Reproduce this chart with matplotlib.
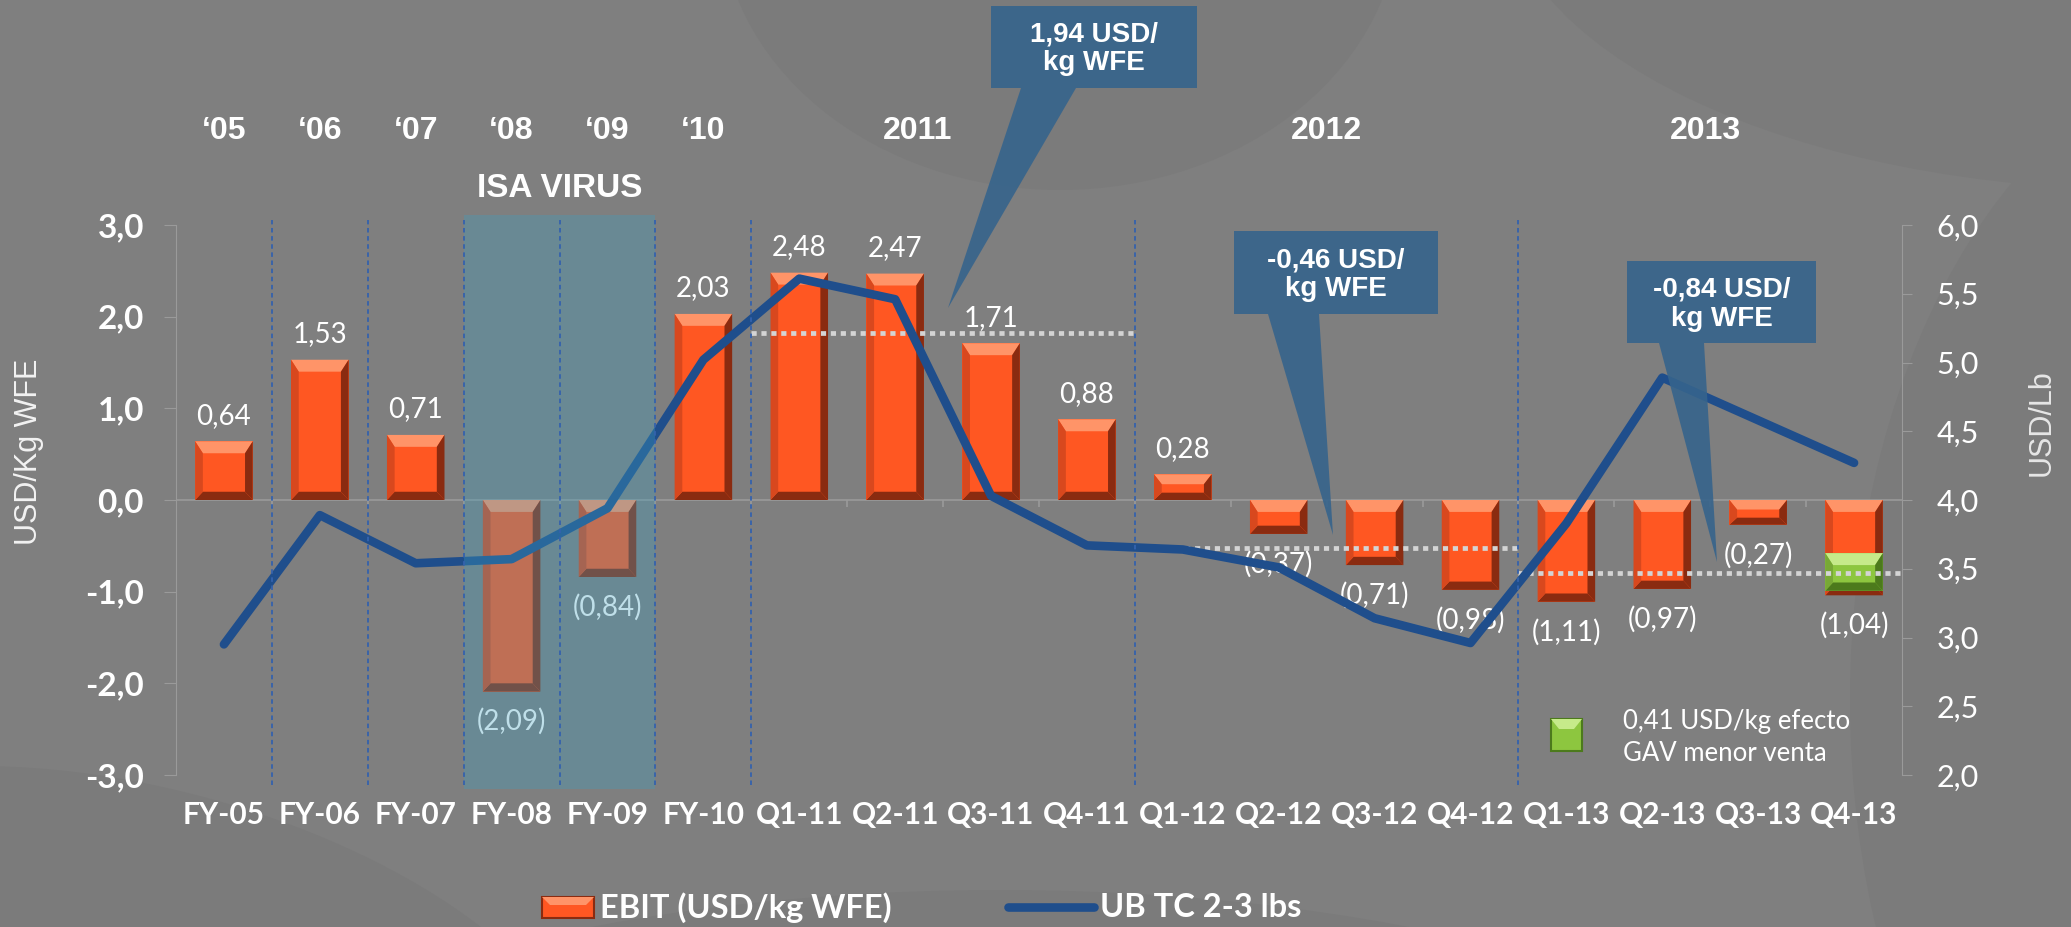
import matplotlib
matplotlib.use("Agg")
import numpy as np
import matplotlib.pyplot as plt
from matplotlib.patches import Rectangle, Polygon, Ellipse
from matplotlib.transforms import Affine2D
from matplotlib.lines import Line2D

# ---- data ----
periods = ["FY-05", "FY-06", "FY-07", "FY-08", "FY-09", "FY-10",
           "Q1-11", "Q2-11", "Q3-11", "Q4-11",
           "Q1-12", "Q2-12", "Q3-12", "Q4-12",
           "Q1-13", "Q2-13", "Q3-13", "Q4-13"]
ebit = [0.64, 1.53, 0.71, -2.09, -0.84, 2.03,
        2.48, 2.47, 1.71, 0.88,
        0.28, -0.37, -0.71, -0.98,
        -1.11, -0.97, -0.27, -1.04]
ub_tc = [2.95, 3.89, 3.54, 3.57, 3.94, 5.02,
         5.61, 5.46, 4.03, 3.67,
         3.64, 3.51, 3.14, 2.96,
         3.83, 4.89, 4.58, 4.27]
year_labels = ["\u201805", "\u201806", "\u201807", "\u201808", "\u201809", "\u201810",
               "2011", "2012", "2013"]
year_pos = [0, 1, 2, 3, 4, 5, 7.23, 11.5, 15.45]
year_breaks = [0.5, 1.5, 2.5, 3.5, 4.5, 5.5, 9.5, 13.5]
avg_levels = [1.82, -0.52, -0.80]
avg_spans = [(5.5, 9.5), (9.5, 13.5), (13.5, 17.5)]
gav_effect = 0.41
gav_base = -0.99
callout_texts = ["1,94 USD/\nkg WFE", "-0,46 USD/\nkg WFE", "-0,84 USD/\nkg WFE"]

# callout geometry in figure pixels (box, wedge base, tip)
callout_boxes = [(991, 6, 1197, 88), (1234, 231, 1438, 314), (1627, 261, 1816, 343)]
callout_bases = [(1021, 1076), (1268, 1319), (1659, 1704)]
callout_tips = [(948, 308), (1333, 535), (1717, 562)]

W, H = 2071, 927
BG = "#7f7f7f"
ORANGE = ("#ff5722", "#ff9468", "#8a2b10", "#d8481e")
GREEN = ("#8dc63f", "#c6ea8a", "#4c7a1c", "#78a836")
NAVY = "#1f4e8c"
CALLOUT = "#36648c"
ARIAL = ["Liberation Sans", "DejaVu Sans"]
CALIBRI = ["Lato", "DejaVu Sans"]

plt.rcParams["font.family"] = CALIBRI


def fmt(v, dec=2):
    s = f"{abs(v):.{dec}f}".replace(".", ",")
    return s if v >= 0 else f"({s})"


def bevel(ax, rect, colors, bx=0.08, top=0.13, bot=0.09, z=2):
    face, light, dark, side = colors
    x0, y0 = rect.get_x(), rect.get_y()
    x1, y1 = x0 + rect.get_width(), y0 + rect.get_height()
    lo, hi = min(y0, y1), max(y0, y1)
    top = min(top, (hi - lo) / 2.6)
    bot = min(bot, (hi - lo) / 3.5)
    shapes = [
        ([(x0, hi), (x1, hi), (x1 - bx, hi - top), (x0 + bx, hi - top)], light),
        ([(x0, lo), (x1, lo), (x1 - bx, lo + bot), (x0 + bx, lo + bot)], dark),
        ([(x0, lo), (x0 + bx, lo + bot), (x0 + bx, hi - top), (x0, hi)], side),
        ([(x1, lo), (x1 - bx, lo + bot), (x1 - bx, hi - top), (x1, hi)], dark),
    ]
    for pts, c in shapes:
        ax.add_patch(Polygon(pts, closed=True, fc=c, ec="none", zorder=z + 0.1))


fig = plt.figure(figsize=(W / 100, H / 100), dpi=100, facecolor=BG)
px = Affine2D().scale(1 / W, -1 / H).translate(0, 1) + fig.transFigure

# faint background swirls
for cx, cy, w, h, ang in [(1060, -90, 680, 560, 0), (2150, -120, 1300, 620, 0),
                          (2260, 700, 820, 1300, 0), (1000, 1190, 1700, 600, 0),
                          (150, 1000, 900, 420, 15)]:
    fig.add_artist(Ellipse((cx, cy), w, h, angle=ang, transform=px,
                           fc="#7b7b7b", ec="none", zorder=-5))

ax = fig.add_axes([176 / W, 1 - 775 / H, (1902 - 176) / W, 550 / H])
ax.set_facecolor("none")
x = np.arange(len(periods))

bars = ax.bar(x, ebit, width=0.6, color=ORANGE[0], zorder=2)
for b in bars:
    bevel(ax, b, ORANGE)

green = ax.bar(x[-1], gav_effect, bottom=gav_base, width=0.6, color=GREEN[0], zorder=2.5)
bevel(ax, green[0], GREEN, z=2.5)

for lvl, (a, b) in zip(avg_levels, avg_spans):
    ax.hlines(lvl, a, b, colors="#d4d4d4", lw=3.4, linestyles=(0, (1.1, 1.0)), zorder=3)

for xi, v in zip(x, ebit):
    ax.annotate(fmt(v), (xi, v), xytext=(0, 9 if v >= 0 else -12),
                textcoords="offset points", ha="center",
                va="bottom" if v >= 0 else "top", fontsize=20,
                color="white", zorder=4)

# zero axis with small category ticks
ax.axhline(0, color="#9a9a9a", lw=1.2, zorder=1)
ax.vlines(np.arange(0.5, len(periods) - 1, 1), -0.08, 0, color="#9a9a9a", lw=1.2, zorder=1)

for lbl, xp in zip(year_labels, year_pos):
    ax.text(xp, 4.03, lbl, ha="center", va="center", fontsize=23,
            fontweight="bold", color="white", family=ARIAL)
ax.text(3.5, 3.40, "ISA VIRUS", ha="center", va="center", fontsize=24,
        fontweight="bold", color="white", family=ARIAL)

ax.set_xlim(-0.5, len(periods) - 0.5)
ax.set_ylim(-3, 3)
ax.set_xticks(x)
ax.set_xticklabels(periods, fontsize=21.5, fontweight="bold", color="white")
ax.tick_params(axis="x", length=0, pad=19)
ax.set_yticks(np.arange(-3, 4, 1))
ax.set_yticklabels([fmt(v, 1) if v >= 0 else "-" + fmt(-v, 1) for v in np.arange(-3, 4, 1)],
                   fontsize=24, fontweight="bold", color="white")
ax.tick_params(axis="y", length=9, color="#9a9a9a", pad=14)
for s in ["top", "bottom", "right"]:
    ax.spines[s].set_visible(False)
ax.spines["left"].set_color("#9a9a9a")

# right axis: price line
ax2 = ax.twinx()
ax2.set_facecolor("none")
ax2.plot(x, ub_tc, color=NAVY, lw=6.2, solid_capstyle="round",
         solid_joinstyle="round", zorder=2)

# ISA virus shaded period, drawn over the line, bars and labels
ax2.add_patch(Rectangle((2.5, -3.15), 2, 6.26, transform=ax.transData,
                        fc=(63 / 255, 160 / 255, 191 / 255), alpha=0.33,
                        ec="none", clip_on=False, zorder=5))
ax2.vlines(year_breaks, -3.11, 3.05, transform=ax.transData, colors="#3462ad",
           lw=1.3, linestyles=(0, (2.5, 2.0)), clip_on=False, zorder=6)

rt = np.arange(2, 6.01, 0.5)
ax2.set_yticks(rt)
ax2.set_yticklabels([fmt(v, 1) for v in rt], fontsize=22, color="white")
ax2.tick_params(axis="y", length=7, color="#9a9a9a", pad=18)
ax2.set_ylim(2, 6)
ax2.set_xlim(-0.5, len(periods) - 0.5)
for s in ["top", "bottom", "left"]:
    ax2.spines[s].set_visible(False)
ax2.spines["right"].set_color("#9a9a9a")

# axis titles
fig.text(29, 452, "USD/Kg WFE", transform=px, rotation=90, ha="center", va="center",
         fontsize=22, color="#f2f2f2", family=ARIAL)
fig.text(2042, 423, "USD/Lb", transform=px, rotation=90, ha="center", va="center",
         fontsize=22, color="#e6e6e6", family=ARIAL)

# callouts
for txt, (l, t, r, b), (bl, br), tip in zip(callout_texts, callout_boxes,
                                           callout_bases, callout_tips):
    pts = [(l, t), (r, t), (r, b), (br, b), tip, (bl, b), (l, b)]
    fig.add_artist(Polygon(pts, closed=True, transform=px, fc=CALLOUT, ec="none",
                           alpha=0.9, zorder=5))
    fig.text((l + r) / 2, (t + b) / 2 + 2, txt, transform=px, ha="center", va="center",
             fontsize=20, fontweight="bold", color="white", linespacing=1.15,
             family=ARIAL, zorder=6)

# GAV note
fig.add_artist(Rectangle((1551, 719), 31, 32, transform=px, fc=GREEN[0], ec=GREEN[2],
                         lw=1.5, zorder=5))
fig.add_artist(Polygon([(1551, 719), (1582, 719), (1574, 729), (1559, 729)], transform=px,
                       fc=GREEN[1], ec="none", zorder=5.1))
fig.text(1623, 738, "0,41 USD/kg efecto\nGAV menor venta", transform=px, ha="left",
         va="center", fontsize=18.5, color="white", linespacing=1.35, zorder=6)

# legend
fig.add_artist(Rectangle((542, 897), 52, 21, transform=px, fc=ORANGE[0], ec=ORANGE[2],
                         lw=1.5, zorder=5))
fig.add_artist(Polygon([(542, 897), (594, 897), (586, 905), (550, 905)], transform=px,
                       fc=ORANGE[1], ec="none", zorder=5.1))
fig.text(600, 908, "EBIT (USD/kg WFE)", transform=px, ha="left", va="center",
         fontsize=23.5, fontweight="bold", color="white")
fig.add_artist(Line2D([1008, 1094], [907, 907], transform=px, color=NAVY, lw=6.2,
                      solid_capstyle="round", zorder=5))
fig.text(1100, 908, "UB TC 2-3 lbs", transform=px, ha="left", va="center",
         fontsize=23.5, fontweight="bold", color="white")

fig.savefig("out.png", dpi=100, facecolor=BG)
